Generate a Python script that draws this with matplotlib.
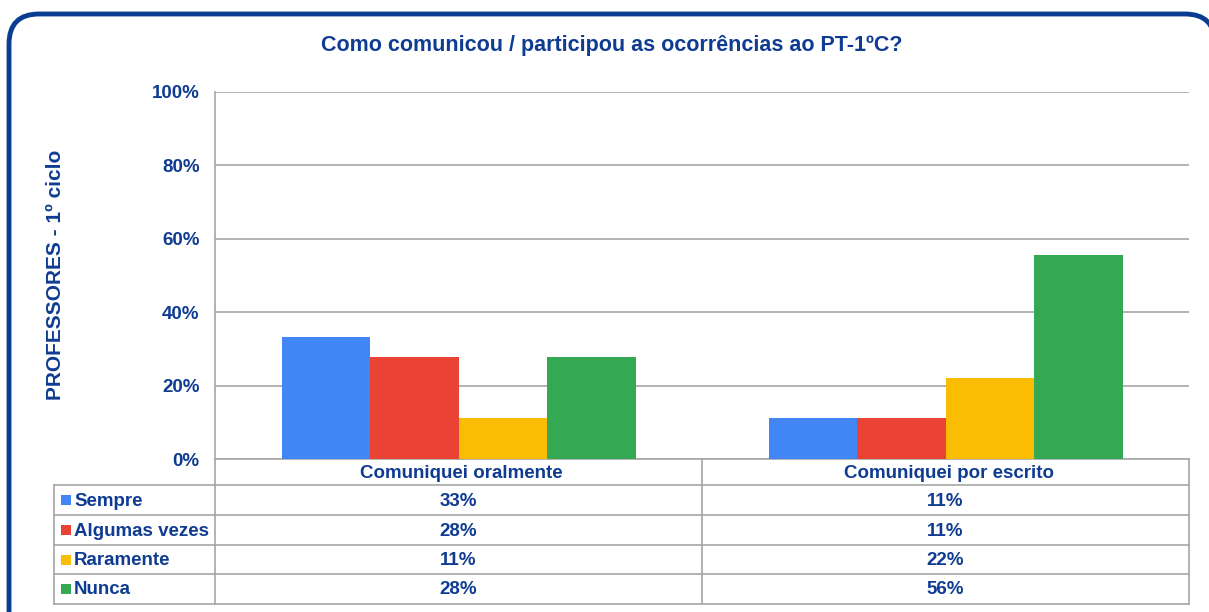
import numpy as np
import matplotlib
matplotlib.use("Agg")
import matplotlib.pyplot as plt
from matplotlib.patches import FancyBboxPatch, Rectangle

plt.rcParams['font.family'] = ['Liberation Sans', 'DejaVu Sans']

# --- data ---
categories = ['Comuniquei oralmente', 'Comuniquei por escrito']
series = ['Sempre', 'Algumas vezes', 'Raramente', 'Nunca']
sempre = [33.3, 11.1]
algumas_vezes = [27.8, 11.1]
raramente = [11.1, 22.2]
nunca = [27.8, 55.6]
values = [sempre, algumas_vezes, raramente, nunca]
colors = ['#4285F4', '#EA4335', '#FBBC04', '#34A853']
yticks = [0, 20, 40, 60, 80, 100]

title = 'Como comunicou / participou as ocorrências ao PT-1ºC?'
ylabel = 'PROFESSORES - 1º ciclo'

TXT = '#0F3C92'
GRID = '#A6A6A6'
W, H = 1209, 612

fig = plt.figure(figsize=(W / 100, H / 100), dpi=100)

# background axes in pixel units (frame + table)
bg = fig.add_axes([0, 0, 1, 1])
bg.set_xlim(0, W)
bg.set_ylim(H, 0)
bg.axis('off')
bg.add_patch(FancyBboxPatch((9, 14), 1215 - 9, 640, boxstyle='round,pad=0,rounding_size=30',
                            lw=3.5, ec='#0A3D91', fc='white'))

# plot area
x0, x1, ytop, ybot = 215, 1189, 92, 459
ax = fig.add_axes([x0 / W, 1 - ybot / H, (x1 - x0) / W, (ybot - ytop) / H])
ax.patch.set_alpha(0)
n = len(series)
bw = 88.5 / ((x1 - x0) / 2)
xs = np.arange(len(categories))
for i, (name, vals) in enumerate(zip(series, values)):
    ax.bar(xs + (i - (n - 1) / 2) * bw, vals, width=bw, color=colors[i], zorder=3)
ax.set_xlim(-0.5, len(categories) - 0.5)
ax.set_ylim(0, 100)
ax.set_yticks(yticks)
ax.set_yticklabels([f'{t}%' for t in yticks], fontsize=13.5, fontweight='bold', color=TXT)
ax.tick_params(axis='y', length=0, pad=11)
ax.set_xticks([])
ax.grid(axis='y', color=GRID, lw=1.2, zorder=0)
for s in ['top', 'right', 'bottom']:
    ax.spines[s].set_visible(False)
ax.spines['left'].set_color(GRID)
ax.spines['left'].set_linewidth(1.2)

fig.text(612 / W, 1 - 46 / H, title, ha='center', va='center', fontsize=15.5,
         fontweight='bold', color=TXT)
fig.text(56 / W, 1 - 275 / H, ylabel, ha='center', va='center', rotation=90,
         fontsize=15, fontweight='bold', color=TXT)

# data table below the axis
rows = [459, 485, 515, 545, 574, 604]
lab_x0 = 54
col_edges = [x0, 702, x1]
lw = 1.2
bg.plot([x0, x1], [rows[0], rows[0]], color=GRID, lw=lw)
for y in rows[1:]:
    bg.plot([lab_x0, x1], [y, y], color=GRID, lw=lw)
bg.plot([lab_x0, lab_x0], [rows[1], rows[-1]], color=GRID, lw=lw)
for cx in col_edges:
    bg.plot([cx, cx], [rows[0], rows[-1]], color=GRID, lw=lw)

for j, cat in enumerate(categories):
    cx = (col_edges[j] + col_edges[j + 1]) / 2
    bg.text(cx + 3, (rows[0] + rows[1]) / 2 + 1, cat, ha='center', va='center',
            fontsize=13.5, fontweight='bold', color=TXT)
for i, name in enumerate(series):
    yc = (rows[i + 1] + rows[i + 2]) / 2
    bg.add_patch(Rectangle((61, yc - 5), 10, 10, color=colors[i], lw=0))
    bg.text(74, yc + 1, name, ha='left', va='center', fontsize=13.5,
            fontweight='bold', color=TXT)
    for j in range(len(categories)):
        cx = (col_edges[j] + col_edges[j + 1]) / 2
        bg.text(cx, yc + 1, f'{values[i][j]:.0f}%', ha='center', va='center',
                fontsize=13.5, fontweight='bold', color=TXT)

fig.savefig('out.png', dpi=100)
